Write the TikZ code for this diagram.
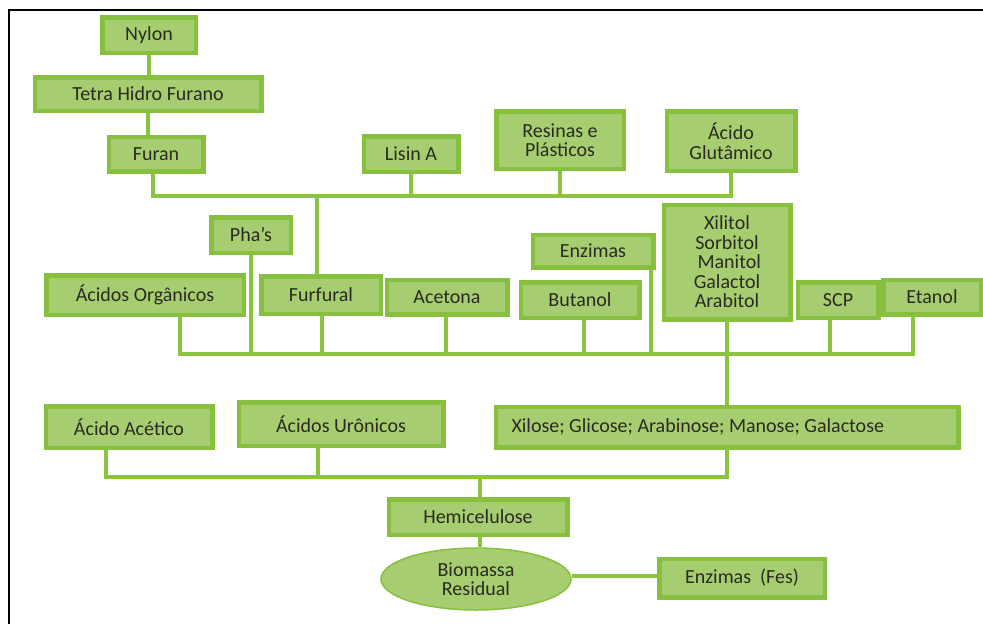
\documentclass[tikz,border=0pt]{standalone}
\usepackage{fontspec}
\setmainfont{Carlito}
\usetikzlibrary{shapes.geometric}
\definecolor{gfill}{HTML}{A6CE70}
\definecolor{gline}{HTML}{8BC540}
\definecolor{gedge}{HTML}{86C03E}
\definecolor{txt}{HTML}{2A2A22}
\tikzset{
  box/.style={draw=gedge, fill=gfill, line width=3pt, inner sep=1pt,
    font=\fontsize{20}{19.5}\selectfont, text=txt, align=center},
  conn/.style={draw=gline, line width=3.6pt},
}
\begin{document}
\begin{tikzpicture}[x=1pt,y=-1pt]
\useasboundingbox (0,0) rectangle (983,624);
% outer frame (top and left edges)
\draw[line width=2pt] (9,624) -- (9,10) -- (983,10);

% top group
\node[box, minimum width=92, minimum height=34] (nylon) at (149,35) {Nylon};
\node[box, minimum width=225, minimum height=32] (thf) at (148,94) {Tetra Hidro Furano};
\node[box, minimum width=93, minimum height=33] (furan) at (156,154) {Furan};
\node[box, minimum width=93, minimum height=34] (lisin) at (411,154) {Lisin A};
\node[box, minimum width=126, minimum height=56] (resinas) at (560,140) {Resinas e\\Plásticos};
\node[box, minimum width=127, minimum height=58] (glut) at (731,141) {Ácido\\Glutâmico};

% middle group
\node[box, minimum width=78, minimum height=34] (phas) at (251,235) {Pha's};
\node[box, minimum width=196, minimum height=38] (orgs) at (145,295) {Ácidos Orgânicos};
\node[box, minimum width=118, minimum height=36] (furfural) at (321,295) {Furfural};
\node[box, minimum width=119, minimum height=33] (acetona) at (447,297) {Acetona};
\node[box, minimum width=117, minimum height=34] (butanol) at (580,300) {Butanol};
\node[box, minimum width=119, minimum height=31] (enzimas) at (593,251) {Enzimas};
\node[box, minimum width=125, minimum height=113] (polyols) at (727,262)
  {Xilitol\\Sorbitol\\\ Manitol\\Galactol\\Arabitol};
\node[box, minimum width=79, minimum height=34] (scp) at (838,300) {SCP};
\node[box, minimum width=96, minimum height=33] (etanol) at (932,297) {Etanol};

% sugars and acids (text set flush left inside the wide box)
\node[box, minimum height=39, anchor=west, inner xsep=15pt] (sugars) at (495,427)
  {\makebox[431pt][l]{Xilose; Glicose; Arabinose; Manose; Galactose}};
\node[box, minimum width=165, minimum height=40] (acetico) at (129,427) {Ácido Acético};
\node[box, minimum width=203, minimum height=42] (uronicos) at (341,424) {Ácidos Urônicos};

% base
\node[box, minimum width=177, minimum height=34] (hemi) at (478,517) {Hemicelulose};
\node[ellipse, draw=gedge, fill=gfill, line width=1.5pt, minimum width=190, minimum height=62,
  inner sep=0pt, font=\fontsize{20}{19.5}\selectfont, text=txt, align=center] (bio) at (476,579)
  {Biomassa\\Residual};
\node[box, minimum width=164, minimum height=37] (fes) at (742,578) {Enzimas\ \ (Fes)};

% connectors: top chain
\draw[conn] (nylon.south) -- (nylon.south |- thf.north);
\draw[conn] (thf.south) -- (thf.south |- furan.north);
\coordinate (tbus) at (317,196);
\draw[conn] ([xshift=-3pt]furan.south) |- (tbus) -- (glut.south |- tbus) -- (glut.south);
\draw[conn] (lisin.south) -- (lisin.south |- tbus);
\draw[conn] (resinas.south) -- (resinas.south |- tbus);
\draw[conn] (tbus) -- (tbus |- furfural.north);

% connectors: middle bus
\coordinate (mbus) at (180,354);
\coordinate (mbusend) at (913,354);
\draw[conn] (orgs.south -| mbus) -- (mbus) -- (mbusend) -- (mbusend |- etanol.south);
\draw[conn] (phas.south) -- (phas.south |- mbus);
\draw[conn] ([xshift=1pt]furfural.south) -- ([xshift=1pt]furfural.south |- mbus);
\draw[conn] ([xshift=-1pt]acetona.south) -- ([xshift=-1pt]acetona.south |- mbus);
\draw[conn] ([xshift=4pt]butanol.south) -- ([xshift=4pt]butanol.south |- mbus);
\draw[conn] ([xshift=-3pt]enzimas.south east) -- ([xshift=-3pt]enzimas.south east |- mbus);
\draw[conn] ([xshift=-8pt]scp.south) -- ([xshift=-8pt]scp.south |- mbus);
\draw[conn] (polyols.south) -- (polyols.south |- sugars.north);

% connectors: lower bus
\coordinate (lbus) at (106,477);
\coordinate (lbusend) at (727,477);
\draw[conn] (acetico.south -| lbus) -- (lbus) -- (lbusend) -- (lbusend |- sugars.south);
\draw[conn] ([xshift=-23pt]uronicos.south) -- ([xshift=-23pt]uronicos.south |- lbus);
\draw[conn] ([xshift=2pt]hemi.north) -- ([xshift=2pt]hemi.north |- lbus);
\draw[conn] ([xshift=2pt]hemi.south) -- ([xshift=2pt]hemi.south |- bio.north);
\draw[conn] ([yshift=3pt]bio.east) -- ([yshift=3pt]bio.east -| fes.west);

% redraw box borders over the connector ends
\foreach \n in {nylon,thf,furan,lisin,resinas,glut,phas,orgs,furfural,acetona,butanol,enzimas,polyols,scp,etanol,sugars,acetico,uronicos,hemi,fes}{
  \draw[draw=gedge, line width=3pt] (\n.south west) rectangle (\n.north east);
}
\end{tikzpicture}
\end{document}
